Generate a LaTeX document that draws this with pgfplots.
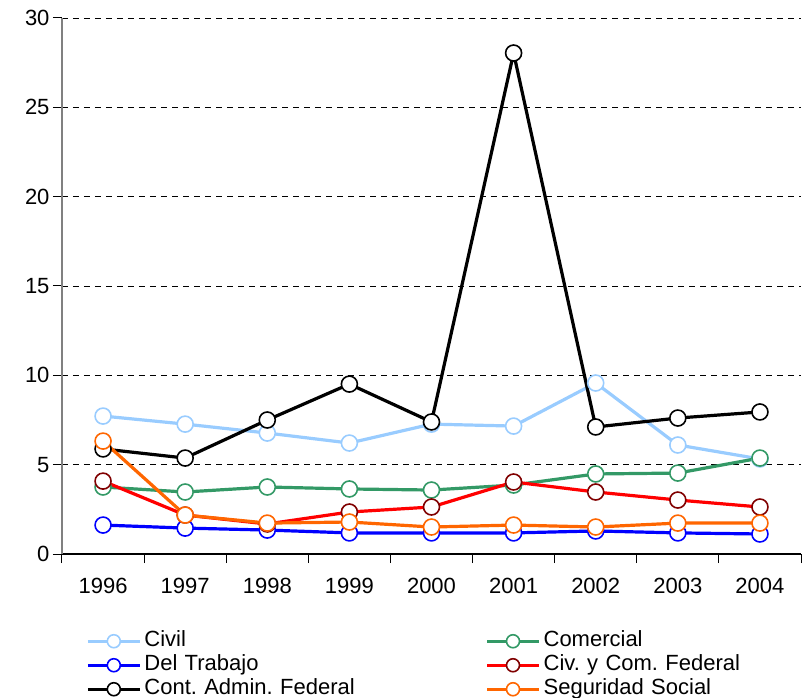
\documentclass[border=0pt]{standalone}
\usepackage{pgfplots}
\pgfplotsset{compat=1.18}
\usepackage{fontspec}
\setmainfont{Liberation Sans}
\frenchspacing
\definecolor{civil}{RGB}{153,204,255}
\definecolor{comercial}{RGB}{51,153,102}
\definecolor{trabajo}{RGB}{0,0,255}
\definecolor{civcom}{RGB}{255,0,0}
\definecolor{civcommark}{RGB}{128,0,0}
\definecolor{segsoc}{RGB}{255,102,0}
\definecolor{axgray}{RGB}{128,128,128}
\begin{document}
\begin{tikzpicture}
\useasboundingbox (-62bp,-144bp) rectangle (742bp,554bp);
\begin{axis}[
  at={(0,0)}, anchor=south west,
  scale only axis, width=739bp, height=536bp,
  xmin=-0.5, xmax=8.5, ymin=0, ymax=30,
  axis x line=bottom, axis y line=left,
  axis line style={-},
  x axis line style={black, line width=1.2bp},
  y axis line style={axgray, line width=2bp},
  xtick={-0.5,0.5,...,8.5}, xticklabels={},
  extra x ticks={0,1,2,3,4,5,6,7,8},
  extra x tick labels={1996,1997,1998,1999,2000,2001,2002,2003,2004},
  extra x tick style={major tick length=0pt, grid=none},
  ytick={0,5,10,15,20,25,30},
  tick align=outside, major tick length=9bp,
  tick style={black, line width=1bp},
  ymajorgrids, grid style={black, line width=0.8bp, dash pattern=on 6bp off 5bp},
  /pgf/number format/assume math mode=true,
  ticklabel style={font=\fontsize{22bp}{26bp}\selectfont},
  xticklabel style={yshift=-21bp},
  legend columns=2,
  legend cell align=left,
  legend style={at={(axis description cs:0.0325,-0.140)}, anchor=north west,
    draw=none, fill=none, inner sep=0pt,
    font=\fontsize{22bp}{26bp}\selectfont,
    nodes={inner sep=1bp, text width=340bp, text height=16bp, text depth=6bp, anchor=west},
    /tikz/every odd column/.append style={column sep=2bp}},
  legend image code/.code={\draw[mark repeat=2,mark phase=2,mark size=6.5bp] plot coordinates {(0bp,0bp) (26bp,0bp) (52bp,0bp)};},
  every axis plot/.append style={line width=3.2bp, mark=*, mark size=8bp},
]
\addplot[civil, mark options={fill=white, draw=civil, line width=1.6bp}] coordinates {
(0,7.72) (1,7.27) (2,6.77) (3,6.21) (4,7.27) (5,7.16) (6,9.57) (7,6.10) (8,5.32)};
\addlegendentry{Civil}
\addplot[comercial, mark options={fill=white, draw=comercial, line width=1.6bp}] coordinates {
(0,3.75) (1,3.47) (2,3.75) (3,3.64) (4,3.58) (5,3.86) (6,4.48) (7,4.53) (8,5.37)};
\addlegendentry{Comercial}
\addplot[trabajo, mark options={fill=white, draw=trabajo, line width=1.6bp}] coordinates {
(0,1.62) (1,1.45) (2,1.34) (3,1.18) (4,1.18) (5,1.18) (6,1.29) (7,1.18) (8,1.12)};
\addlegendentry{Del Trabajo}
\addplot[civcom, mark options={fill=white, draw=civcommark, line width=1.6bp}] coordinates {
(0,4.08) (1,2.18) (2,1.68) (3,2.35) (4,2.63) (5,4.03) (6,3.47) (7,3.02) (8,2.63)};
\addlegendentry{Civ. y Com. Federal}
\addplot[black, mark options={fill=white, draw=black, line width=1.6bp}] coordinates {
(0,5.88) (1,5.37) (2,7.50) (3,9.51) (4,7.39) (5,28.04) (6,7.11) (7,7.61) (8,7.95)};
\addlegendentry{Cont. Admin. Federal}
\addplot[segsoc, mark options={fill=white, draw=segsoc, line width=1.6bp}] coordinates {
(0,6.32) (1,2.18) (2,1.73) (3,1.79) (4,1.51) (5,1.62) (6,1.51) (7,1.73) (8,1.73)};
\addlegendentry{Seguridad Social}
\end{axis}
\end{tikzpicture}
\end{document}
